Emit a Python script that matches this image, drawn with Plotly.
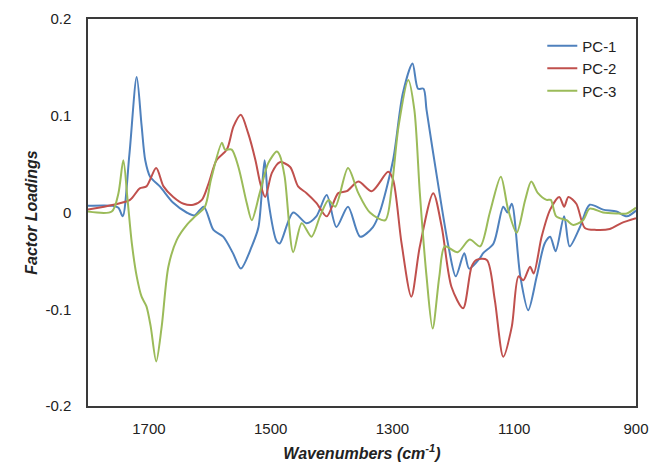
import plotly.graph_objects as go

# PC-1 (blue)
pc1_wn = [1800, 1760, 1750, 1743, 1732, 1720, 1712, 1706, 1698, 1682, 1660, 1638, 1625, 1610, 1594, 1578, 1562,
          1549, 1531, 1520, 1510, 1504, 1490, 1485, 1463, 1441, 1425, 1408, 1392, 1373, 1353, 1332, 1321,
          1299, 1283, 1267, 1258, 1249, 1244, 1227, 1208, 1196, 1182, 1174, 1156, 1151, 1134, 1118, 1111,
          1104, 1090, 1077, 1063, 1050, 1041, 1032, 1018, 1009, 992, 976, 954, 932, 915, 900]
pc1_val = [0.007, 0.007, 0.005, -0.004, 0.06, 0.140, 0.09, 0.054, 0.037, 0.027, 0.010, 0.000, -0.003, 0.006, -0.018,
           -0.025, -0.042, -0.058, -0.035, -0.015, 0.054, 0.013, -0.030, -0.032, 0.000, -0.011, -0.004, 0.018,
           -0.015, 0.006, -0.025, -0.015, 0.000, 0.054, 0.123, 0.154, 0.128, 0.128, 0.106, 0.037, -0.035,
           -0.066, -0.042, -0.058, -0.047, -0.042, -0.032, 0.006, 0.000, 0.009, -0.066, -0.101, -0.066,
           -0.032, -0.025, -0.040, -0.004, -0.035, -0.015, 0.008, 0.003, 0.001, -0.004, 0.002]

# PC-2 (red)
pc2_wn = [1800, 1758, 1731, 1715, 1704, 1688, 1676, 1660, 1643, 1627, 1613, 1602, 1589, 1572, 1561, 1549, 1537,
          1525, 1517, 1509, 1498, 1485, 1468, 1455, 1441, 1425, 1408, 1389, 1375, 1356, 1334, 1307, 1299,
          1285, 1269, 1255, 1233, 1219, 1203, 1184, 1170, 1162, 1145, 1132, 1118, 1104, 1093, 1085, 1074,
          1068, 1055, 1041, 1026, 1018, 1011, 998, 984, 965, 943, 924, 900]
pc2_val = [0.003, 0.008, 0.013, 0.025, 0.027, 0.046, 0.027, 0.016, 0.009, 0.008, 0.013, 0.030, 0.054, 0.065,
           0.089, 0.101, 0.082, 0.054, 0.030, 0.016, 0.041, 0.052, 0.047, 0.027, 0.020, 0.010, -0.004, 0.020,
           0.022, 0.032, 0.022, 0.042, 0.034, -0.032, -0.087, -0.035, 0.020, -0.015, -0.077, -0.099, -0.056,
           -0.049, -0.049, -0.090, -0.149, -0.118, -0.066, -0.070, -0.056, -0.063, -0.025, 0.003, 0.016,
           0.006, 0.016, 0.009, -0.016, -0.018, -0.017, -0.011, -0.006]

# PC-3 (green)
pc3_wn = [1800, 1761, 1750, 1742, 1735, 1728, 1720, 1712, 1704, 1697, 1688, 1679, 1668, 1654, 1638, 1624, 1608,
          1598, 1580, 1575, 1564, 1553, 1539, 1531, 1518, 1504, 1490, 1485, 1477, 1463, 1449, 1433, 1419,
          1405, 1394, 1373, 1356, 1337, 1312, 1301, 1290, 1274, 1264, 1255, 1244, 1234, 1223, 1214, 1193,
          1173, 1156, 1140, 1122, 1110, 1096, 1082, 1072, 1061, 1047, 1040, 1031, 1014, 1003, 987, 976, 954,
          932, 915, 900]
pc3_val = [0.001, 0.001, 0.020, 0.054, 0.013, -0.032, -0.066, -0.087, -0.097, -0.118, -0.154, -0.118, -0.056,
           -0.028, -0.013, -0.004, 0.006, 0.034, 0.072, 0.065, 0.065, 0.047, 0.009, -0.008, 0.020, 0.051,
           0.063, 0.059, 0.037, -0.041, -0.011, -0.025, -0.004, 0.013, 0.006, 0.046, 0.020, 0.000, -0.008,
           0.027, 0.089, 0.137, 0.106, 0.020, -0.066, -0.120, -0.066, -0.035, -0.041, -0.028, -0.035, 0.000,
           0.037, 0.003, -0.021, 0.013, 0.032, 0.020, 0.013, 0.013, -0.004, -0.008, -0.013, -0.008, 0.004,
           0.000, -0.001, -0.001, 0.005]

series = [("PC-1", pc1_wn, pc1_val, "#4f81bd"),
          ("PC-2", pc2_wn, pc2_val, "#c0504d"),
          ("PC-3", pc3_wn, pc3_val, "#9bbb59")]

x_ticks = [1700, 1500, 1300, 1100, 900]
y_ticks = [0.2, 0.1, 0, -0.1, -0.2]
y_labels = ["0.2", "0.1", "0", "-0.1", "-0.2"]

fig = go.Figure()
for name, wn, val, col in series:
    fig.add_trace(go.Scatter(x=wn, y=val, name=name, mode="lines",
                             line=dict(color=col, width=2, shape="spline", smoothing=0.8)))

font = dict(family="Liberation Sans, Arial, sans-serif", color="#222222")
fig.update_layout(
    width=654, height=466,
    margin=dict(l=88, r=18, t=19, b=60),
    paper_bgcolor="white", plot_bgcolor="white",
    font=dict(size=15, **font),
    showlegend=True,
    legend=dict(x=0.829, y=0.973, xanchor="left", yanchor="top", bgcolor="rgba(0,0,0,0)",
                font=dict(size=15, **font), tracegroupgap=0),
    xaxis=dict(range=[1800, 900], tickvals=x_ticks, ticktext=[str(t) for t in x_ticks],
               showgrid=False, zeroline=False, showline=True, linecolor="#3a3a3a", linewidth=1.5,
               mirror=True, ticks="", ticklabelstandoff=8, automargin=False,
               title=dict(text="<b><i>Wavenumbers (cm<sup>-1</sup>)</i></b>", font=dict(size=16, **font),
                          standoff=12)),
    yaxis=dict(range=[-0.2, 0.2], tickvals=y_ticks, ticktext=y_labels,
               showgrid=False, zeroline=False, showline=True, linecolor="#3a3a3a", linewidth=1.5,
               mirror=True, ticks="", ticklabelstandoff=12, automargin=False,
               title=dict(text="<b><i>Factor Loadings</i></b>", font=dict(size=16, **font), standoff=4)),
)
fig.write_html("out.html")
